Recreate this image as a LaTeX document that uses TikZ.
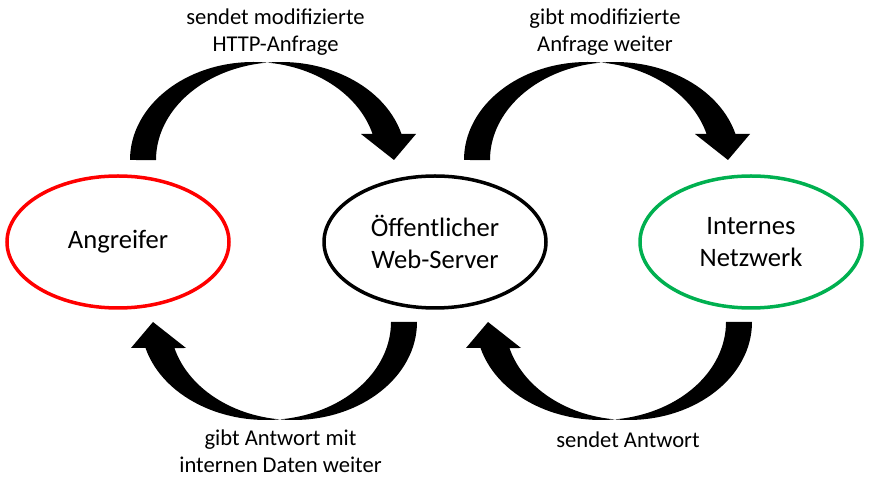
\documentclass[tikz,border=0pt]{standalone}
\usepackage{fontspec}
\setmainfont{Carlito}
\usetikzlibrary{shapes.geometric}
\definecolor{gruen}{HTML}{00B050}
\tikzset{
  rolle/.style={ellipse, draw, line width=3.5pt, minimum width=222pt, minimum height=132pt, inner sep=0pt, align=center, font=\fontsize{26.6}{32}\selectfont},
  beschr/.style={align=center, inner sep=1pt, font=\fontsize{22.6}{27.5}\selectfont},
  bogen/.pic={
    \fill (-143.5,0) arc[start angle=180, end angle=15.4, x radius=123.5, y radius=98]
      -- (87.5,26) -- (120.5,0) -- (142.5,26) -- (128,26)
      arc[start angle=15.4, end angle=180, x radius=125, y radius=98] -- cycle;
  }
}
\begin{document}
\begin{tikzpicture}[x=1pt, y=1pt]
\useasboundingbox[fill=white] (0,0) rectangle (871,479);
\node[rolle, draw=red] (angreifer) at (118,237) {Angreifer};
\node[rolle] (server) at (435,237) {Öffentlicher\\Web-Server};
\node[rolle, draw=gruen] (netz) at (751,237) {Internes\\Netzwerk};

\pic at (273.5,319) {bogen};
\pic at (607.5,319) {bogen};
\pic[rotate=180] at (273.5,157) {bogen};
\pic[rotate=180] at (608.5,157) {bogen};

\node[beschr] (anfrage) at (275.5,447) {sendet modifizierte\\HTTP-Anfrage};
\node[beschr] (weiter) at (605,447) {gibt modifizierte\\Anfrage weiter};
\node[beschr] (daten) at (280.5,28) {gibt Antwort mit\\internen Daten weiter};
\node[beschr] (antwort) at (628,39) {sendet Antwort};
\end{tikzpicture}
\end{document}
